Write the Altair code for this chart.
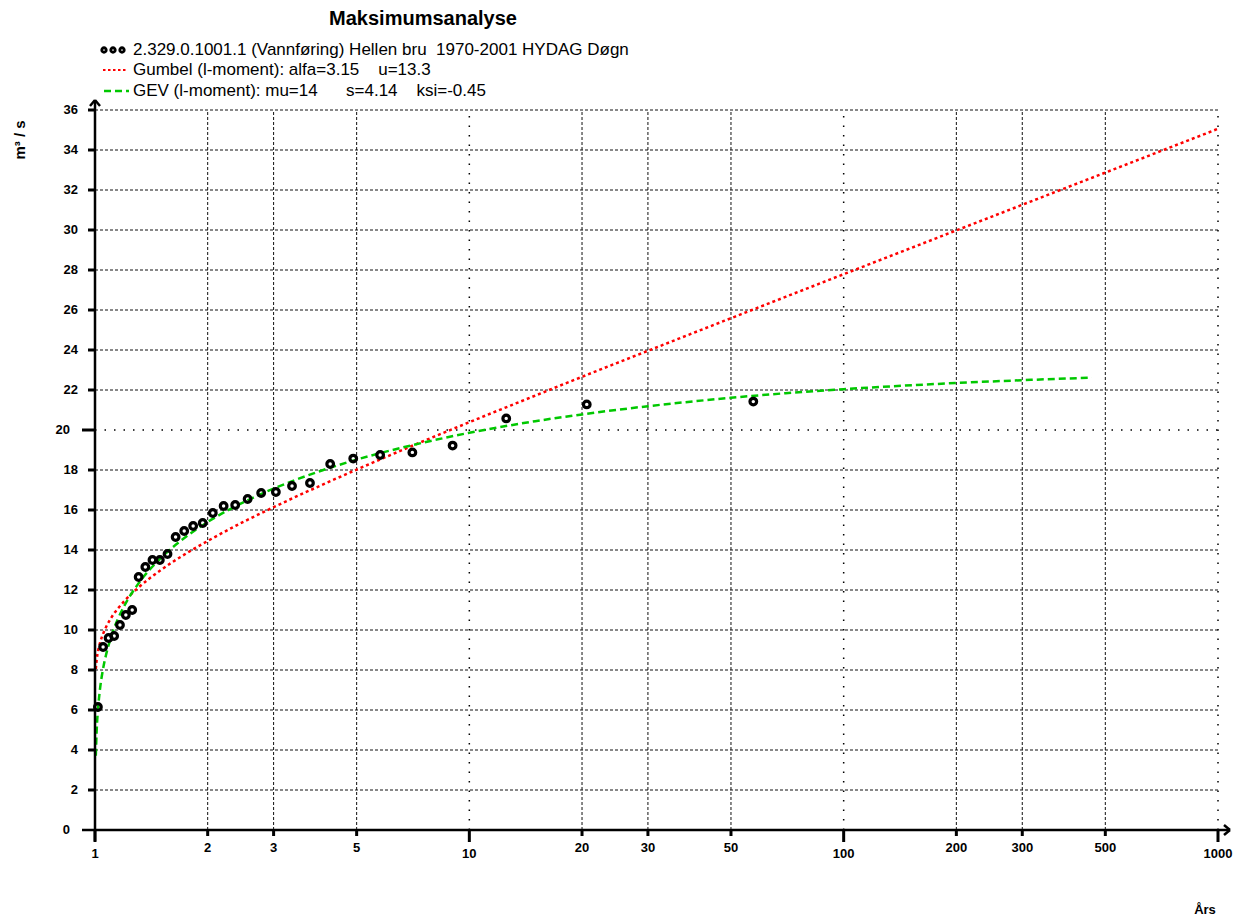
import altair as alt
import pandas as pd

# Annual maximum daily discharge (m3/s), 2.329.0.1001.1 Hellen bru 1970-2001,
# sorted ascending, with their return periods (years)
obs_T = [1.018, 1.051, 1.087, 1.125, 1.166, 1.209, 1.257, 1.308, 1.363, 1.424,
         1.490, 1.562, 1.642, 1.731, 1.829, 1.940, 2.064, 2.206, 2.369, 2.557,
         2.779, 3.042, 3.360, 3.752, 4.249, 4.896, 5.777, 7.044, 9.022, 12.547,
         20.590, 57.357]
obs_Q = [6.15, 9.15, 9.6, 9.7, 10.25, 10.75, 11.0, 12.65, 13.15, 13.5,
         13.5, 13.8, 14.65, 14.95, 15.2, 15.35, 15.85, 16.2, 16.25, 16.55,
         16.85, 16.9, 17.2, 17.35, 18.3, 18.57, 18.75, 18.88, 19.22, 20.58,
         21.28, 21.42]

# Fitted Gumbel curve (alfa=3.15, u=13.3)
gumbel_T = [1.005, 1.01, 1.02, 1.03, 1.05, 1.07, 1.1, 1.2, 1.3, 1.5, 1.75, 2,
            2.5, 3, 4, 5, 7, 10, 15, 20, 30, 50, 70, 100, 200, 300, 500, 1000]
gumbel_Q = [8.05, 8.48, 8.99, 9.32, 9.79, 10.14, 10.55, 11.46, 12.09, 13.00,
            13.82, 14.45, 15.42, 16.14, 17.22, 18.02, 19.19, 20.39, 21.72,
            22.66, 23.96, 25.59, 26.66, 27.79, 29.98, 31.26, 32.87, 35.06]

# Fitted GEV curve (mu=14, s=4.14, ksi=-0.45)
gev_T = [1.005, 1.01, 1.02, 1.03, 1.05, 1.07, 1.1, 1.2, 1.3, 1.5, 1.75, 2,
         2.5, 3, 4, 5, 7, 10, 15, 20, 30, 50, 70, 100, 200, 300, 460]
gev_Q = [3.71, 4.89, 6.16, 6.96, 8.02, 8.75, 9.56, 11.24, 12.27, 13.60,
         14.66, 15.40, 16.40, 17.07, 17.95, 18.52, 19.23, 19.86, 20.44,
         20.78, 21.19, 21.61, 21.84, 22.04, 22.35, 22.49, 22.62]

# Axis ticks
x_major_ticks = [1, 10, 100, 1000]
x_minor_ticks = [2, 3, 5, 20, 30, 50, 200, 300, 500]
y_ticks = [0, 2, 4, 6, 8, 10, 12, 14, 16, 18, 20, 22, 24, 26, 28, 30, 32, 34, 36]
y_major_ticks = [0, 20]

title_text = "Maksimumsanalyse"
legend_labels = [
    "2.329.0.1001.1 (Vannføring) Hellen bru  1970-2001 HYDAG Døgn",
    "Gumbel (l-moment): alfa=3.15    u=13.3",
    "GEV (l-moment): mu=14      s=4.14    ksi=-0.45",
]
x_title = "Års"
y_title = "m³ / s"

FONT = "Liberation Sans"
RED = "#ff0000"
GREEN = "#00c800"
GRID = "#111111"

W, H = 1123, 720

xs = alt.Scale(type="log", domain=[1, 1000], nice=False)
ys = alt.Scale(domain=[0, 36], nice=False, zero=False)

one = pd.DataFrame({"k": [0]})


def xf(field):
    return alt.X(field, type="quantitative", scale=xs, axis=None)


def yf(field):
    return alt.Y(field, type="quantitative", scale=ys, axis=None)


def seg(x, x2, y, y2, **kw):
    return alt.Chart(one).mark_rule(**kw).encode(
        x=alt.value(x), x2=alt.value(x2), y=alt.value(y), y2=alt.value(y2))


def label(text, x, y, **kw):
    # non-breaking spaces keep the runs of blanks in the legend lines
    return alt.Chart(one).mark_text(font=FONT, **kw).encode(
        x=alt.value(x), y=alt.value(y), text=alt.value(text.replace(" ", "\u00a0")))


# --- grid ---
y_minor_grid = [v for v in y_ticks if v not in y_major_ticks]
hgrid = alt.Chart(pd.DataFrame({"y": y_minor_grid})).mark_rule(
    color=GRID, strokeWidth=1, strokeDash=[3, 2]).encode(
    y=yf("y"), x=alt.XDatum(1, type="quantitative", scale=xs, axis=None),
    x2=alt.X2Datum(1000))
hgrid20 = alt.Chart(pd.DataFrame({"y": [20]})).mark_rule(
    color="#000000", strokeWidth=1.5, strokeDash=[1.5, 8]).encode(
    y=yf("y"), x=alt.XDatum(1, type="quantitative", scale=xs, axis=None),
    x2=alt.X2Datum(1000))
vgrid = alt.Chart(pd.DataFrame({"x": x_minor_ticks})).mark_rule(
    color=GRID, strokeWidth=1, strokeDash=[3, 2]).encode(
    x=xf("x"), y=alt.YDatum(0, type="quantitative", scale=ys, axis=None),
    y2=alt.Y2Datum(36))
vgrid_dec = alt.Chart(pd.DataFrame({"x": x_major_ticks[1:]})).mark_rule(
    color="#000000", strokeWidth=1.5, strokeDash=[1.5, 8]).encode(
    x=xf("x"), y=alt.YDatum(0, type="quantitative", scale=ys, axis=None),
    y2=alt.Y2Datum(36))

# --- axes ---
axis_kw = dict(color="#000000", strokeWidth=2.5)
y_axis = seg(0, 0, -10, 731, **axis_kw)
x_axis = seg(-13, 1135, H, H, **axis_kw)
arrow_up = seg(-5, 0, -4, -10, **axis_kw) + seg(0, 5, -10, -4, **axis_kw)
arrow_right = seg(1129, 1135, 715, H, **axis_kw) + seg(1129, 1135, 725, H, **axis_kw)

x_ticks_minor = alt.Chart(pd.DataFrame({"x": x_minor_ticks})).mark_rule(
    color="#000000", strokeWidth=3).encode(
    x=xf("x"), y=alt.value(H), y2=alt.value(H + 6))
x_ticks_major = alt.Chart(pd.DataFrame({"x": x_major_ticks})).mark_rule(
    color="#000000", strokeWidth=3).encode(
    x=xf("x"), y=alt.value(H), y2=alt.value(H + 12))
y_tick_marks = alt.Chart(pd.DataFrame({"y": [v for v in y_ticks if v not in y_major_ticks]})).mark_rule(
    color="#000000", strokeWidth=3).encode(
    y=yf("y"), x=alt.value(-7), x2=alt.value(0))
y_tick_20 = alt.Chart(pd.DataFrame({"y": [20]})).mark_rule(
    color="#000000", strokeWidth=3).encode(
    y=yf("y"), x=alt.value(-13), x2=alt.value(0))

tick_font = dict(font=FONT, fontSize=13, fontWeight="bold", color="#000000")
x_lab_minor = alt.Chart(pd.DataFrame({"x": x_minor_ticks,
                                      "t": [str(v) for v in x_minor_ticks]})).mark_text(
    align="center", baseline="middle", **tick_font).encode(
    x=xf("x"), y=alt.value(H + 18), text="t:N")
x_lab_major = alt.Chart(pd.DataFrame({"x": x_major_ticks,
                                      "t": [str(v) for v in x_major_ticks]})).mark_text(
    align="center", baseline="middle", **tick_font).encode(
    x=xf("x"), y=alt.value(H + 24), text="t:N")
y_lab_minor = alt.Chart(pd.DataFrame({"y": [v for v in y_ticks if v not in y_major_ticks],
                                      "t": [str(v) for v in y_ticks if v not in y_major_ticks]})).mark_text(
    align="right", baseline="middle", **tick_font).encode(
    y=yf("y"), x=alt.value(-17), text="t:N")
y_lab_major = alt.Chart(pd.DataFrame({"y": y_major_ticks,
                                      "t": [str(v) for v in y_major_ticks]})).mark_text(
    align="right", baseline="middle", **tick_font).encode(
    y=yf("y"), x=alt.value(-25), text="t:N")

# --- data ---
gumbel = alt.Chart(pd.DataFrame({"T": gumbel_T, "Q": gumbel_Q})).mark_line(
    color=RED, strokeWidth=2.5, strokeDash=[3, 3], interpolate="monotone").encode(
    x=xf("T"), y=yf("Q"), order="T:Q")
gev = alt.Chart(pd.DataFrame({"T": gev_T, "Q": gev_Q})).mark_line(
    color=GREEN, strokeWidth=2.5, strokeDash=[7, 4], interpolate="monotone").encode(
    x=xf("T"), y=yf("Q"), order="T:Q")
obs = alt.Chart(pd.DataFrame({"T": obs_T, "Q": obs_Q})).mark_point(
    shape="circle", filled=False, color="#000000", size=44, strokeWidth=3.2,
    opacity=1).encode(x=xf("T"), y=yf("Q"))

# --- title, legend, axis titles ---
title = label(title_text, 328, -91, fontSize=20, fontWeight="bold",
              align="center", baseline="middle")
leg_pts = alt.Chart(pd.DataFrame({"px": [9, 18, 27]})).mark_point(
    shape="circle", filled=False, color="#000000", size=20, strokeWidth=2.8,
    opacity=1).encode(x=alt.X("px:Q", scale=None, axis=None), y=alt.value(-60))
leg_red = seg(8, 33, -40, -40, color=RED, strokeWidth=2, strokeDash=[2.5, 2.5])
leg_green = seg(9, 34, -19, -19, color=GREEN, strokeWidth=2.5, strokeDash=[7, 4])
leg_kw = dict(fontSize=17, align="left", baseline="middle", color="#000000")
leg_text = (label(legend_labels[0], 38, -60, **leg_kw)
            + label(legend_labels[1], 38, -40, **leg_kw)
            + label(legend_labels[2], 38, -19, **leg_kw))
ytitle = label(y_title, -75, 30, fontSize=15, fontWeight="bold", angle=270,
               align="center", baseline="middle")
xtitle = label(x_title, 1110, 800, fontSize=13, fontWeight="bold",
               align="center", baseline="middle")

chart = alt.layer(
    hgrid, hgrid20, vgrid, vgrid_dec,
    gumbel, gev, obs,
    y_axis, x_axis, arrow_up, arrow_right,
    x_ticks_minor, x_ticks_major, y_tick_marks, y_tick_20,
    x_lab_minor, x_lab_major, y_lab_minor, y_lab_major,
    title, leg_pts, leg_red, leg_green, leg_text, ytitle, xtitle,
).properties(
    width=W, height=H,
    autosize=alt.AutoSizeParams(type="none"),
    padding={"left": 95, "top": 110, "right": 24, "bottom": 90},
    background="#ffffff",
).configure_view(stroke=None)

chart.save("out.html", embed_options={"renderer": "svg", "actions": False})
